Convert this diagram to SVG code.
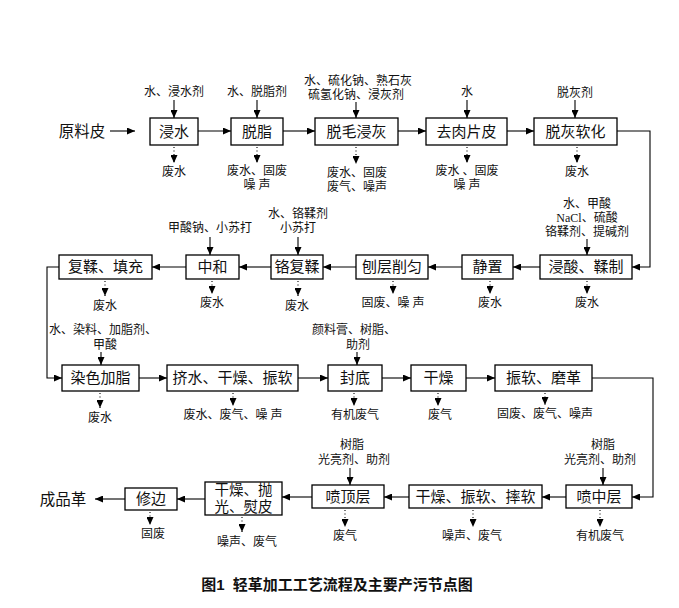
<svg xmlns="http://www.w3.org/2000/svg" width="679" height="608" viewBox="0 0 679 608">
<style>
text{font-family:"Liberation Serif","Noto Sans CJK SC",serif;fill:#111;text-anchor:middle;dominant-baseline:central}
.b{fill:#fff;stroke:#000;stroke-width:1.3}
.bt{font-size:15px}
.lb{font-size:12px}
.c{fill:none;stroke:#000;stroke-width:1.1}
.d{fill:none;stroke:#000;stroke-width:1.1;stroke-dasharray:1,2.5}
.cap{font-family:"Liberation Sans","Noto Sans CJK SC",sans-serif;font-size:15px;font-weight:bold;white-space:pre}
</style>
<defs>
<marker id="ah" viewBox="0 0 8 7" refX="8" refY="3.5" markerWidth="8" markerHeight="7" orient="auto" markerUnits="userSpaceOnUse"><path d="M0,0 L8,3.5 L0,7 z" fill="#000"/></marker>
</defs>
<rect width="679" height="608" fill="#fff"/>

<g id="connectors">
<line class="c" x1="110" y1="131" x2="135" y2="131" marker-end="url(#ah)"/>
<line class="c" x1="198" y1="131" x2="231" y2="131" marker-end="url(#ah)"/>
<line class="c" x1="283" y1="131" x2="315" y2="131" marker-end="url(#ah)"/>
<line class="c" x1="398" y1="131" x2="426" y2="131" marker-end="url(#ah)"/>
<line class="c" x1="507" y1="131" x2="534" y2="131" marker-end="url(#ah)"/>
<polyline class="c" points="617,131 650,131 650,267 632,267" marker-end="url(#ah)"/>
<line class="c" x1="540" y1="267" x2="513" y2="267" marker-end="url(#ah)"/>
<line class="c" x1="462" y1="267" x2="428" y2="267" marker-end="url(#ah)"/>
<line class="c" x1="356" y1="267" x2="323" y2="267" marker-end="url(#ah)"/>
<line class="c" x1="271" y1="267" x2="239" y2="267" marker-end="url(#ah)"/>
<line class="c" x1="186" y1="267" x2="152" y2="267" marker-end="url(#ah)"/>
<polyline class="c" points="59,267 47,267 47,378 62,378" marker-end="url(#ah)"/>
<line class="c" x1="139" y1="378" x2="167" y2="378" marker-end="url(#ah)"/>
<line class="c" x1="298" y1="378" x2="328" y2="378" marker-end="url(#ah)"/>
<line class="c" x1="382" y1="378" x2="411" y2="378" marker-end="url(#ah)"/>
<line class="c" x1="466" y1="378" x2="495" y2="378" marker-end="url(#ah)"/>
<polyline class="c" points="592,378 653,378 653,497 632,497" marker-end="url(#ah)"/>
<line class="c" x1="566" y1="497" x2="542" y2="497" marker-end="url(#ah)"/>
<line class="c" x1="409" y1="497" x2="384" y2="497" marker-end="url(#ah)"/>
<line class="c" x1="312" y1="497" x2="282" y2="497" marker-end="url(#ah)"/>
<line class="c" x1="205" y1="499" x2="177" y2="499" marker-end="url(#ah)"/>
<line class="c" x1="125" y1="499" x2="95" y2="499" marker-end="url(#ah)"/>
<line class="c" x1="174" y1="100" x2="174" y2="118" marker-end="url(#ah)"/>
<line class="c" x1="257" y1="100" x2="257" y2="118" marker-end="url(#ah)"/>
<line class="c" x1="356" y1="102" x2="356" y2="118" marker-end="url(#ah)"/>
<line class="c" x1="467" y1="100" x2="467" y2="118" marker-end="url(#ah)"/>
<line class="c" x1="575" y1="100" x2="575" y2="118" marker-end="url(#ah)"/>
<line class="c" x1="210" y1="237" x2="210" y2="255" marker-end="url(#ah)"/>
<line class="c" x1="298" y1="237" x2="298" y2="255" marker-end="url(#ah)"/>
<line class="c" x1="587" y1="239" x2="587" y2="255" marker-end="url(#ah)"/>
<line class="c" x1="101" y1="352" x2="101" y2="365" marker-end="url(#ah)"/>
<line class="c" x1="357" y1="352" x2="357" y2="365" marker-end="url(#ah)"/>
<line class="c" x1="350" y1="468" x2="350" y2="485" marker-end="url(#ah)"/>
<line class="c" x1="603" y1="468" x2="603" y2="485" marker-end="url(#ah)"/>
<line class="d" x1="174" y1="147" x2="174" y2="163" marker-end="url(#ah)"/>
<line class="d" x1="257" y1="147" x2="257" y2="163" marker-end="url(#ah)"/>
<line class="d" x1="356" y1="147" x2="356" y2="164" marker-end="url(#ah)"/>
<line class="d" x1="467" y1="147" x2="467" y2="163" marker-end="url(#ah)"/>
<line class="d" x1="577" y1="147" x2="577" y2="163" marker-end="url(#ah)"/>
<line class="d" x1="105" y1="281" x2="105" y2="296" marker-end="url(#ah)"/>
<line class="d" x1="212" y1="281" x2="212" y2="294" marker-end="url(#ah)"/>
<line class="d" x1="298" y1="281" x2="298" y2="296" marker-end="url(#ah)"/>
<line class="d" x1="393" y1="281" x2="393" y2="294" marker-end="url(#ah)"/>
<line class="d" x1="490" y1="281" x2="490" y2="294" marker-end="url(#ah)"/>
<line class="d" x1="587" y1="281" x2="587" y2="294" marker-end="url(#ah)"/>
<line class="d" x1="100" y1="393" x2="100" y2="408" marker-end="url(#ah)"/>
<line class="d" x1="233" y1="393" x2="233" y2="406" marker-end="url(#ah)"/>
<line class="d" x1="354" y1="393" x2="354" y2="406" marker-end="url(#ah)"/>
<line class="d" x1="438" y1="393" x2="438" y2="406" marker-end="url(#ah)"/>
<line class="d" x1="545" y1="393" x2="545" y2="405" marker-end="url(#ah)"/>
<line class="d" x1="600" y1="510" x2="600" y2="527" marker-end="url(#ah)"/>
<line class="d" x1="473" y1="510" x2="473" y2="527" marker-end="url(#ah)"/>
<line class="d" x1="345" y1="510" x2="345" y2="527" marker-end="url(#ah)"/>
<line class="d" x1="242" y1="517" x2="242" y2="532" marker-end="url(#ah)"/>
<line class="d" x1="150" y1="512" x2="150" y2="525" marker-end="url(#ah)"/>
</g>

<g id="labels">
<text class="bt" x="82" y="131" style="font-size:15.5px">原料皮</text>
<text class="bt" x="63" y="499" style="font-size:15.5px">成品革</text>
<text class="lb" x="174" y="92">水、浸水剂</text>
<text class="lb" x="257" y="92">水、脱脂剂</text>
<text class="lb" y="81"><tspan x="358">水、硫化钠、熟石灰</tspan><tspan x="356" dy="14">硫氢化钠、浸灰剂</tspan></text>
<text class="lb" x="467" y="92">水</text>
<text class="lb" x="575" y="93">脱灰剂</text>
<text class="lb" x="174" y="172">废水</text>
<text class="lb" y="171"><tspan x="257">废水、固废</tspan><tspan x="257" dy="14">噪 声</tspan></text>
<text class="lb" y="173"><tspan x="357">废水、固废</tspan><tspan x="357" dy="14">废气、噪声</tspan></text>
<text class="lb" y="171"><tspan x="467">废水 、固废</tspan><tspan x="467" dy="14">噪 声</tspan></text>
<text class="lb" x="577" y="172">废水</text>
<text class="lb" x="210" y="228">甲酸钠、小苏打</text>
<text class="lb" y="214"><tspan x="298">水、铬鞣剂</tspan><tspan x="298" dy="14">小苏打</tspan></text>
<text class="lb" y="204"><tspan x="587">水、甲酸</tspan><tspan x="587" dy="14">NaCl、硫酸</tspan><tspan x="587" dy="14">铬鞣剂、提碱剂</tspan></text>
<text class="lb" x="105" y="306">废水</text>
<text class="lb" x="212" y="303">废水</text>
<text class="lb" x="297" y="306">废水</text>
<text class="lb" x="393" y="303">固废、噪 声</text>
<text class="lb" x="490" y="303">废水</text>
<text class="lb" x="587" y="303">废水</text>
<text class="lb" y="330"><tspan x="103">水、染料、加脂剂、</tspan><tspan x="105" dy="15">甲酸</tspan></text>
<text class="lb" y="330"><tspan x="354">颜料膏、树脂、</tspan><tspan x="358" dy="15">助剂</tspan></text>
<text class="lb" x="100" y="418">废水</text>
<text class="lb" x="233" y="415">废水、废气、噪 声</text>
<text class="lb" x="355" y="415">有机废气</text>
<text class="lb" x="440" y="415">废气</text>
<text class="lb" x="545" y="414">固废、废气、噪声</text>
<text class="lb" y="445"><tspan x="352">树脂</tspan><tspan x="354" dy="15">光亮剂、助剂</tspan></text>
<text class="lb" y="445"><tspan x="603">树脂</tspan><tspan x="600" dy="15">光亮剂、助剂</tspan></text>
<text class="lb" x="600" y="536">有机废气</text>
<text class="lb" x="472" y="536">噪声、废气</text>
<text class="lb" x="345" y="536">废气</text>
<text class="lb" x="247" y="542">噪声、废气</text>
<text class="lb" x="153" y="534">固废</text>
</g>

<g id="n1"><rect class="b" x="150" y="118" width="48" height="27"/><text class="bt" x="174" y="131.5">浸水</text></g>
<g id="n2"><rect class="b" x="231" y="118" width="52" height="27"/><text class="bt" x="257" y="131.5">脱脂</text></g>
<g id="n3"><rect class="b" x="315" y="118" width="83" height="27"/><text class="bt" x="356.5" y="131.5">脱毛浸灰</text></g>
<g id="n4"><rect class="b" x="426" y="118" width="81" height="27"/><text class="bt" x="466.5" y="131.5">去肉片皮</text></g>
<g id="n5"><rect class="b" x="534" y="118" width="83" height="27"/><text class="bt" x="575.5" y="131.5">脱灰软化</text></g>

<g id="n6"><rect class="b" x="540" y="255" width="92" height="24"/><text class="bt" x="586" y="267">浸酸、鞣制</text></g>
<g id="n7"><rect class="b" x="462" y="255" width="51" height="24"/><text class="bt" x="487.5" y="267">静置</text></g>
<g id="n8"><rect class="b" x="356" y="255" width="72" height="24"/><text class="bt" x="392" y="267">刨层削匀</text></g>
<g id="n9"><rect class="b" x="271" y="255" width="52" height="24"/><text class="bt" x="297" y="267">铬复鞣</text></g>
<g id="n10"><rect class="b" x="186" y="255" width="53" height="24"/><text class="bt" x="212.5" y="267">中和</text></g>
<g id="n11"><rect class="b" x="59" y="255" width="93" height="24"/><text class="bt" x="105.5" y="267">复鞣、填充</text></g>

<g id="n12"><rect class="b" x="62" y="365" width="77" height="26"/><text class="bt" x="100.5" y="378">染色加脂</text></g>
<g id="n13"><rect class="b" x="167" y="365" width="131" height="26"/><text class="bt" x="232.5" y="378">挤水、干燥、振软</text></g>
<g id="n14"><rect class="b" x="328" y="365" width="54" height="26"/><text class="bt" x="355" y="378">封底</text></g>
<g id="n15"><rect class="b" x="411" y="365" width="55" height="26"/><text class="bt" x="438.5" y="378">干燥</text></g>
<g id="n16"><rect class="b" x="495" y="365" width="97" height="26"/><text class="bt" x="543.5" y="378">振软、磨革</text></g>

<g id="n17"><rect class="b" x="566" y="485" width="66" height="23"/><text class="bt" x="599" y="496.5">喷中层</text></g>
<g id="n18"><rect class="b" x="409" y="485" width="133" height="23"/><text class="bt" x="475.5" y="496.5">干燥、振软、摔软</text></g>
<g id="n19"><rect class="b" x="312" y="485" width="72" height="23"/><text class="bt" x="348" y="496.5">喷顶层</text></g>
<g id="n20"><rect class="b" x="205" y="482" width="77" height="33"/><text class="bt" y="490" style="font-size:14.5px"><tspan x="243.5">干燥、抛</tspan><tspan x="243.5" dy="17">光、熨皮</tspan></text></g>
<g id="n21"><rect class="b" x="125" y="488" width="52" height="22"/><text class="bt" x="151" y="499">修边</text></g>

<text class="cap" x="337" y="584">图1  轻革加工工艺流程及主要产污节点图</text>
</svg>
